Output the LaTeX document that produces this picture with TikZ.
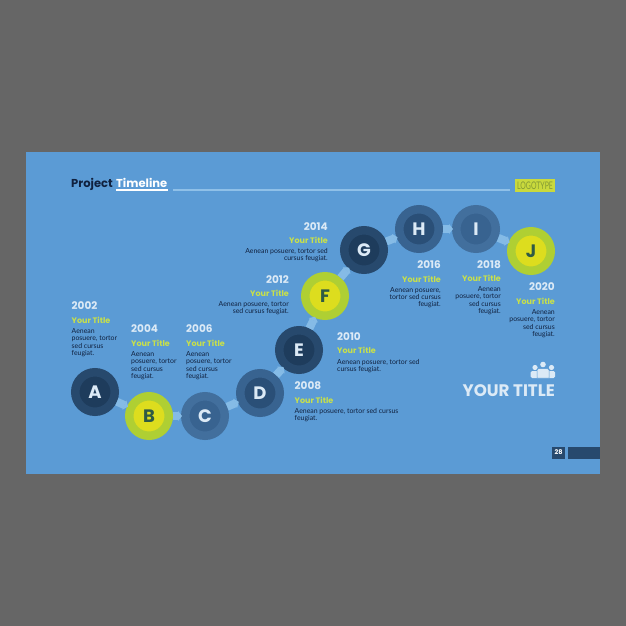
\documentclass[tikz,border=0pt]{standalone}
\usepackage{fontspec}
\setmainfont{Lato}
\newfontfamily\headfont{Poppins}
\usetikzlibrary{arrows.meta}
\definecolor{pagegrey}{HTML}{666666}
\definecolor{slideblue}{HTML}{5B9BD5}
\definecolor{ruleblue}{HTML}{8FC0E8}
\definecolor{linkblue}{HTML}{85BBE6}
\definecolor{paleblue}{HTML}{DCEAF6}
\definecolor{inkblue}{HTML}{10213F}
\definecolor{navy}{HTML}{27496D}
\definecolor{navyin}{HTML}{1E3C5C}
\definecolor{midblue}{HTML}{386390}
\definecolor{midin}{HTML}{2A4F77}
\definecolor{softblue}{HTML}{426F9D}
\definecolor{softin}{HTML}{386390}
\definecolor{lime}{HTML}{AFCF33}
\definecolor{limein}{HTML}{DDDD1E}
\definecolor{leaf}{HTML}{2F5A45}
\definecolor{titlelime}{HTML}{C8E04A}
\definecolor{logoback}{HTML}{C9D93C}
\definecolor{logotext}{HTML}{849B35}
\begin{document}
\begin{tikzpicture}[x=1pt,y=-1pt,
	disc/.style={circle,inner sep=0,line width=8.5pt,minimum size=39.5pt,text=paleblue,font=\headfont\fontsize{18}{18}\selectfont\bfseries},
	darkdisc/.style={disc,draw=navy,fill=navyin},
	middisc/.style={disc,draw=midblue,fill=midin},
	softdisc/.style={disc,draw=softblue,fill=softin},
	limedisc/.style={disc,draw=lime,fill=limein,text=leaf},
	link/.style={draw=linkblue,line width=8pt,shorten >=-1pt,-{Triangle[length=4pt,width=10pt]}},
	yearleft/.style={anchor=west,inner sep=0,text=paleblue,font=\headfont\fontsize{10.5}{11}\selectfont\bfseries},
	yearright/.style={yearleft,anchor=east},
	titleleft/.style={anchor=west,inner sep=0,text=titlelime,font=\headfont\fontsize{8}{9}\selectfont\bfseries},
	titleright/.style={titleleft,anchor=east},
	bodyleft/.style={anchor=north west,inner sep=0,align=left,text=inkblue,font=\fontsize{6.9}{7.2}\selectfont},
	bodyright/.style={bodyleft,anchor=north east,align=right}]
	\useasboundingbox (0,0) rectangle (626,626);
	\fill[pagegrey] (0,0) rectangle (626,626);
	\fill[slideblue] (26,152) rectangle (600,474);
	% heading
	\node[anchor=base west,inner sep=0,text=inkblue,font=\headfont\fontsize{11.5}{12}\selectfont\bfseries] (project) at (71,187.5) {Project};
	\node[anchor=base west,inner sep=0,text=white,font=\headfont\fontsize{11.5}{12}\selectfont\bfseries] (timeline) at (116,187.5) {Timeline};
	\fill[white] (116,189) rectangle (168,191);
	\fill[ruleblue] (173,189) rectangle (510,191);
	\node[anchor=center,fill=logoback,text=logotext,inner sep=0,minimum width=40pt,minimum height=12.5pt] (logo) at (535,185.5) {\fontsize{10.5}{10}\selectfont\scalebox{.66}[1]{LOGOTYPE}};
	% circles
	\node[darkdisc] (A) at (95,392) {A};
	\node[limedisc] (B) at (149,416) {B};
	\node[softdisc] (C) at (205,416) {C};
	\node[middisc] (D) at (260,393) {D};
	\node[darkdisc] (E) at (299,350) {E};
	\node[limedisc] (F) at (325,296) {F};
	\node[darkdisc] (G) at (364,250) {G};
	\node[middisc] (H) at (419,229) {H};
	\node[softdisc] (I) at (476,229) {I};
	\node[limedisc] (J) at (531,251) {J};
	\foreach \from/\to in {A/B,B/C,C/D,D/E,E/F,F/G,G/H,H/I,I/J}
		\draw[link] (\from) -- (\to);
	% labels
	\node[yearleft] (y2002) at (71.5,306) {2002};
	\node[titleleft] (t2002) at (71.5,320) {Your Title};
	\node[bodyleft] (b2002) at (71.5,328.5) {Aenean\\posuere, tortor\\sed cursus\\feugiat.};
	\node[yearleft] (y2004) at (131,329) {2004};
	\node[titleleft] (t2004) at (131,343) {Your Title};
	\node[bodyleft] (b2004) at (131,351.5) {Aenean\\posuere, tortor\\sed cursus\\feugiat.};
	\node[yearleft] (y2006) at (186,329) {2006};
	\node[titleleft] (t2006) at (186,343) {Your Title};
	\node[bodyleft] (b2006) at (186,351.5) {Aenean\\posuere, tortor\\sed cursus\\feugiat.};
	\node[yearleft] (y2008) at (294.5,386) {2008};
	\node[titleleft] (t2008) at (294.5,400) {Your Title};
	\node[bodyleft] (b2008) at (294.5,408.5) {Aenean posuere, tortor sed cursus\\feugiat.};
	\node[yearleft] (y2010) at (337,337) {2010};
	\node[titleleft] (t2010) at (337,350) {Your Title};
	\node[bodyleft] (b2010) at (337,359) {Aenean posuere, tortor sed\\cursus feugiat.};
	\node[yearright] (y2012) at (289,280) {2012};
	\node[titleright] (t2012) at (289,293) {Your Title};
	\node[bodyright] (b2012) at (289,301.5) {Aenean posuere, tortor\\sed cursus feugiat.};
	\node[yearright] (y2014) at (328,227) {2014};
	\node[titleright] (t2014) at (328,240) {Your Title};
	\node[bodyright] (b2014) at (328,248.5) {Aenean posuere, tortor sed\\cursus feugiat.};
	\node[yearright] (y2016) at (441,265) {2016};
	\node[titleright] (t2016) at (441,279) {Your Title};
	\node[bodyright] (b2016) at (441,287) {Aenean posuere,\\tortor sed cursus\\feugiat.};
	\node[yearright] (y2018) at (501,265) {2018};
	\node[titleright] (t2018) at (501,278) {Your Title};
	\node[bodyright] (b2018) at (501,286.5) {Aenean\\posuere, tortor\\sed cursus\\feugiat.};
	\node[yearright] (y2020) at (555,287) {2020};
	\node[titleright] (t2020) at (555,301) {Your Title};
	\node[bodyright] (b2020) at (555,309.5) {Aenean\\posuere, tortor\\sed cursus\\feugiat.};
	% people sign
	\fill[paleblue] (535,367.5) circle (2.6);
	\fill[paleblue] (543,364.5) circle (2.8);
	\fill[paleblue] (551.5,367.5) circle (2.6);
	\fill[paleblue,rounded corners=1.5pt] (530.7,378) -- (530.7,371) -- (555,371) -- (555,378) -- cycle;
	\fill[paleblue,draw=slideblue,line width=.5pt] (537,378) -- (537,370) -- (538.5,368.5) -- (547.5,368.5) -- (549,370) -- (549,378) -- cycle;
	\node[anchor=east,inner sep=0,text=paleblue,font=\headfont\fontsize{16.7}{17}\selectfont\bfseries] (bigtitle) at (555,391) {YOUR TITLE};
	% page number
	\node[fill=navy,text=white,inner sep=0,minimum width=13pt,minimum height=12pt,font=\headfont\fontsize{6.5}{7}\selectfont\bfseries] (page) at (558.5,452.5) {28};
	\fill[navy] (568,446.5) rectangle (600,458.5);
\end{tikzpicture}
\end{document}
